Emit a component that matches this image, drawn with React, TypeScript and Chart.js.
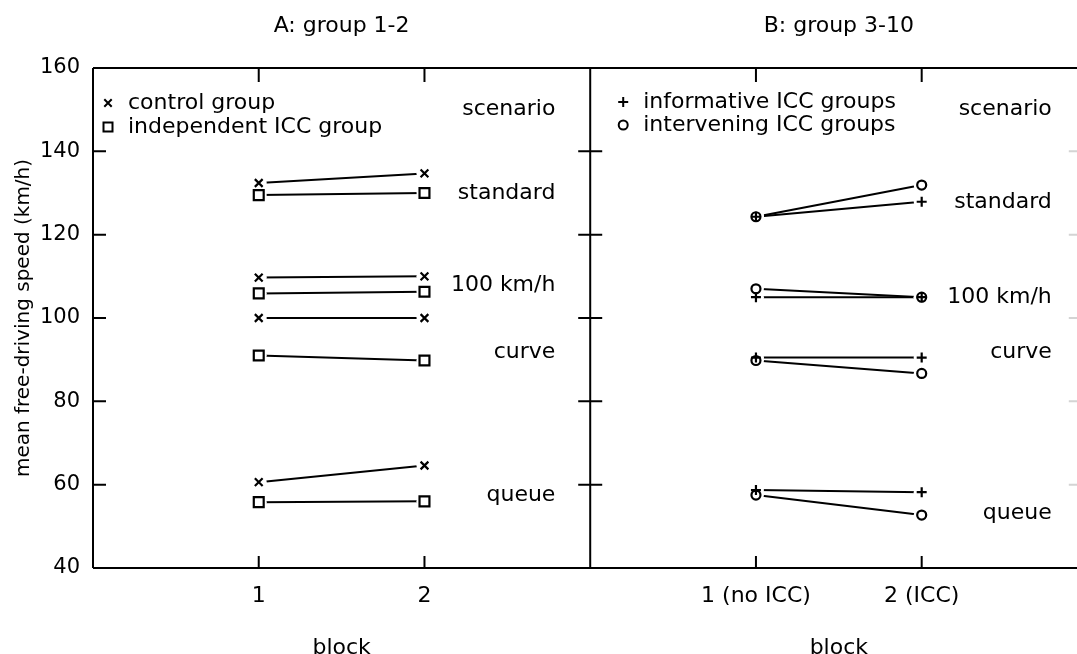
import React, { useEffect, useRef } from 'react';
import { Chart, registerables } from 'chart.js';

Chart.register(...registerables);

// ---- data ----
const blocksA = [1, 2];
const blocksB = [4, 5];
const xTickValues = [1, 2, 4, 5];
const xTickLabels = ['1', '2', '1 (no ICC)', '2 (ICC)'];
const yMin = 40;
const yMax = 160;
const yStep = 20;
const scenarioLabels = ['scenario', 'standard', '100 km/h', 'curve', 'queue'];

// values per scenario: [standard, 100 km/h, curve, queue], each [block1, block2]
const controlGroup = [[132.4, 134.7], [109.7, 110.0], [100.0, 100.0], [60.6, 64.6]];
const independentICC = [[129.5, 130.0], [105.9, 106.3], [91.0, 89.8], [55.8, 56.0]];
const informativeICC = [[124.3, 127.9], [105.0, 105.0], [90.5, 90.5], [58.7, 58.2]];
const interveningICC = [[124.3, 131.9], [107.0, 105.0], [89.8, 86.7], [57.5, 52.7]];

// scenario label anchors (right aligned) in data units
const labelYA = [150, 130, 107.9, 91.8, 57.5];
const labelYB = [150, 127.8, 105, 91.8, 53.2];
const labelXA = 2.79;
const labelXB = 5.785;
const panelTitles = ['A: group 1-2', 'B: group 3-10'];
const panelCenters = [1.5, 4.5];
const xTitle = 'block';
const yTitle = 'mean free-driving speed (km/h)';

const FONT = "'DejaVu Sans', 'Verdana', sans-serif";

type Group = { name: string; values: number[][]; blocks: number[]; style: string; radius: number; order: number };
const groups: Group[] = [
  { name: 'control group', values: controlGroup, blocks: blocksA, style: 'crossRot', radius: 5.5, order: 1 },
  { name: 'independent ICC group', values: independentICC, blocks: blocksA, style: 'rect', radius: 7, order: 1 },
  { name: 'intervening ICC groups', values: interveningICC, blocks: blocksB, style: 'circle', radius: 4.5, order: 1 },
  { name: 'informative ICC groups', values: informativeICC, blocks: blocksB, style: 'cross', radius: 5, order: 0 },
];

function drawMarker(ctx: CanvasRenderingContext2D, style: string, x: number, y: number) {
  ctx.save();
  ctx.strokeStyle = '#000';
  ctx.lineWidth = 2;
  ctx.beginPath();
  if (style === 'crossRot') {
    const d = 3.7;
    ctx.moveTo(x - d, y - d); ctx.lineTo(x + d, y + d);
    ctx.moveTo(x + d, y - d); ctx.lineTo(x - d, y + d);
  } else if (style === 'cross') {
    const d = 5;
    ctx.moveTo(x - d, y); ctx.lineTo(x + d, y);
    ctx.moveTo(x, y - d); ctx.lineTo(x, y + d);
  } else if (style === 'rect') {
    ctx.rect(x - 4.5, y - 4.5, 9, 9);
  } else {
    ctx.arc(x, y, 4.5, 0, Math.PI * 2);
  }
  ctx.stroke();
  ctx.restore();
}

const framePlugin = {
  id: 'frame',
  beforeDatasetsDraw(chart: any) {
    const { ctx, chartArea } = chart;
    const { left, right, top, bottom } = chartArea;
    const xs = chart.scales.x;
    const ys = chart.scales.y;
    const divider = xs.getPixelForValue(3);
    ctx.save();
    ctx.strokeStyle = '#000';
    ctx.lineWidth = 2;
    ctx.beginPath();
    ctx.moveTo(left, top); ctx.lineTo(right + 10, top);
    ctx.moveTo(left, top); ctx.lineTo(left, bottom);
    ctx.moveTo(left, bottom); ctx.lineTo(right + 10, bottom);
    ctx.moveTo(divider, top); ctx.lineTo(divider, bottom);
    for (let v = yMin + yStep; v < yMax; v += yStep) {
      const y = ys.getPixelForValue(v);
      ctx.moveTo(left, y); ctx.lineTo(left + 13, y);
      ctx.moveTo(divider - 12, y); ctx.lineTo(divider + 12, y);
    }
    for (const v of xTickValues) {
      const x = xs.getPixelForValue(v);
      ctx.moveTo(x, bottom); ctx.lineTo(x, bottom - 12);
      ctx.moveTo(x, top); ctx.lineTo(x, top + 14);
    }
    ctx.stroke();
    ctx.strokeStyle = '#d4d4d4';
    ctx.beginPath();
    for (let v = yMin + yStep; v < yMax; v += yStep) {
      const y = ys.getPixelForValue(v);
      ctx.moveTo(right - 12, y); ctx.lineTo(right, y);
    }
    ctx.stroke();
    ctx.restore();
  },
  afterDraw(chart: any) {
    const { ctx, chartArea } = chart;
    const xs = chart.scales.x;
    const ys = chart.scales.y;
    const divider = xs.getPixelForValue(3);
    ctx.save();
    ctx.fillStyle = '#000';
    ctx.font = `22px ${FONT}`;
    // scenario labels
    ctx.textAlign = 'right';
    ctx.textBaseline = 'middle';
    scenarioLabels.forEach((t, i) => {
      ctx.fillText(t, xs.getPixelForValue(labelXA), ys.getPixelForValue(labelYA[i]));
      ctx.fillText(t, xs.getPixelForValue(labelXB), ys.getPixelForValue(labelYB[i]));
    });
    // panel titles and x titles
    ctx.textAlign = 'center';
    panelTitles.forEach((t, i) => {
      const x = xs.getPixelForValue(panelCenters[i]);
      ctx.textBaseline = 'middle';
      ctx.fillText(t, x, 26);
      ctx.textBaseline = 'alphabetic';
      ctx.fillText(xTitle, x, 654);
    });
    // legends
    ctx.textAlign = 'left';
    ctx.textBaseline = 'middle';
    const legA = [groups[0], groups[1]];
    const legB = [groups[3], groups[2]];
    legA.forEach((g, i) => {
      const y = chartArea.top + 35 + i * 24;
      drawMarker(ctx, g.style, chartArea.left + 15, y);
      ctx.fillText(g.name, chartArea.left + 35, y);
    });
    legB.forEach((g, i) => {
      const y = chartArea.top + 34 + i * 23;
      drawMarker(ctx, g.style, divider + 33, y);
      ctx.fillText(g.name, divider + 53, y);
    });
    ctx.restore();
  },
};

export default function App() {
  const ref = useRef<HTMLCanvasElement | null>(null);

  useEffect(() => {
    if (!ref.current) return;
    const datasets: any[] = [];
    groups.forEach((g) => {
      const pts: { x: number; y: number }[] = [];
      g.values.forEach((pair) => {
        const seg = g.blocks.map((x, j) => ({ x, y: pair[j] }));
        pts.push(...seg);
        datasets.push({
          label: g.name,
          data: seg,
          showLine: true,
          borderColor: '#000',
          borderWidth: 2,
          pointRadius: 0,
          order: 5,
        });
      });
      datasets.push({
        label: g.name + ' halo',
        data: pts,
        showLine: false,
        pointStyle: 'circle',
        pointRadius: 8,
        pointBorderWidth: 0,
        pointBackgroundColor: '#fff',
        pointBorderColor: '#fff',
        order: 4,
      });
      datasets.push({
        label: g.name + ' markers',
        data: pts,
        showLine: false,
        pointStyle: g.style,
        pointRadius: g.radius,
        pointBorderWidth: 2.2,
        pointBorderColor: '#000',
        pointBackgroundColor: 'rgba(0,0,0,0)',
        order: g.order,
      });
    });

    const chart = new Chart(ref.current, {
      type: 'scatter',
      data: { datasets },
      options: {
        animation: false,
        responsive: false,
        events: [],
        layout: { padding: { left: 0, right: 6, top: 68, bottom: 0 } },
        plugins: { legend: { display: false }, tooltip: { enabled: false }, title: { display: false } },
        scales: {
          x: {
            type: 'linear',
            min: 0,
            max: 5.96,
            grid: { display: false, drawTicks: false },
            border: { display: false },
            afterBuildTicks: (scale: any) => {
              scale.ticks = xTickValues.map((v) => ({ value: v }));
            },
            afterFit: (scale: any) => {
              scale.height = 86;
            },
            ticks: {
              autoSkip: false,
              maxRotation: 0,
              padding: 15,
              color: '#000',
              font: { family: FONT, size: 22 },
              callback: (v: any) => {
                const i = xTickValues.indexOf(Number(v));
                return i >= 0 ? xTickLabels[i] : '';
              },
            },
          },
          y: {
            type: 'linear',
            min: yMin,
            max: yMax,
            grid: { display: false, drawTicks: false },
            border: { display: false },
            afterFit: (scale: any) => {
              scale.width = 93;
            },
            ticks: {
              stepSize: yStep,
              padding: 13,
              color: '#000',
              font: { family: FONT, size: 21 },
            },
            title: {
              display: true,
              text: yTitle,
              color: '#000',
              padding: { top: 12, bottom: 0 },
              font: { family: FONT, size: 20 },
            },
          },
        },
      },
      plugins: [framePlugin],
    });
    return () => chart.destroy();
  }, []);

  return (
    <div style={{ position: 'fixed', left: 0, top: 0, width: 1077, height: 654, overflow: 'hidden', background: '#fff' }}>
      <canvas ref={ref} width={1090} height={654} style={{ display: 'block' }} />
    </div>
  );
}
